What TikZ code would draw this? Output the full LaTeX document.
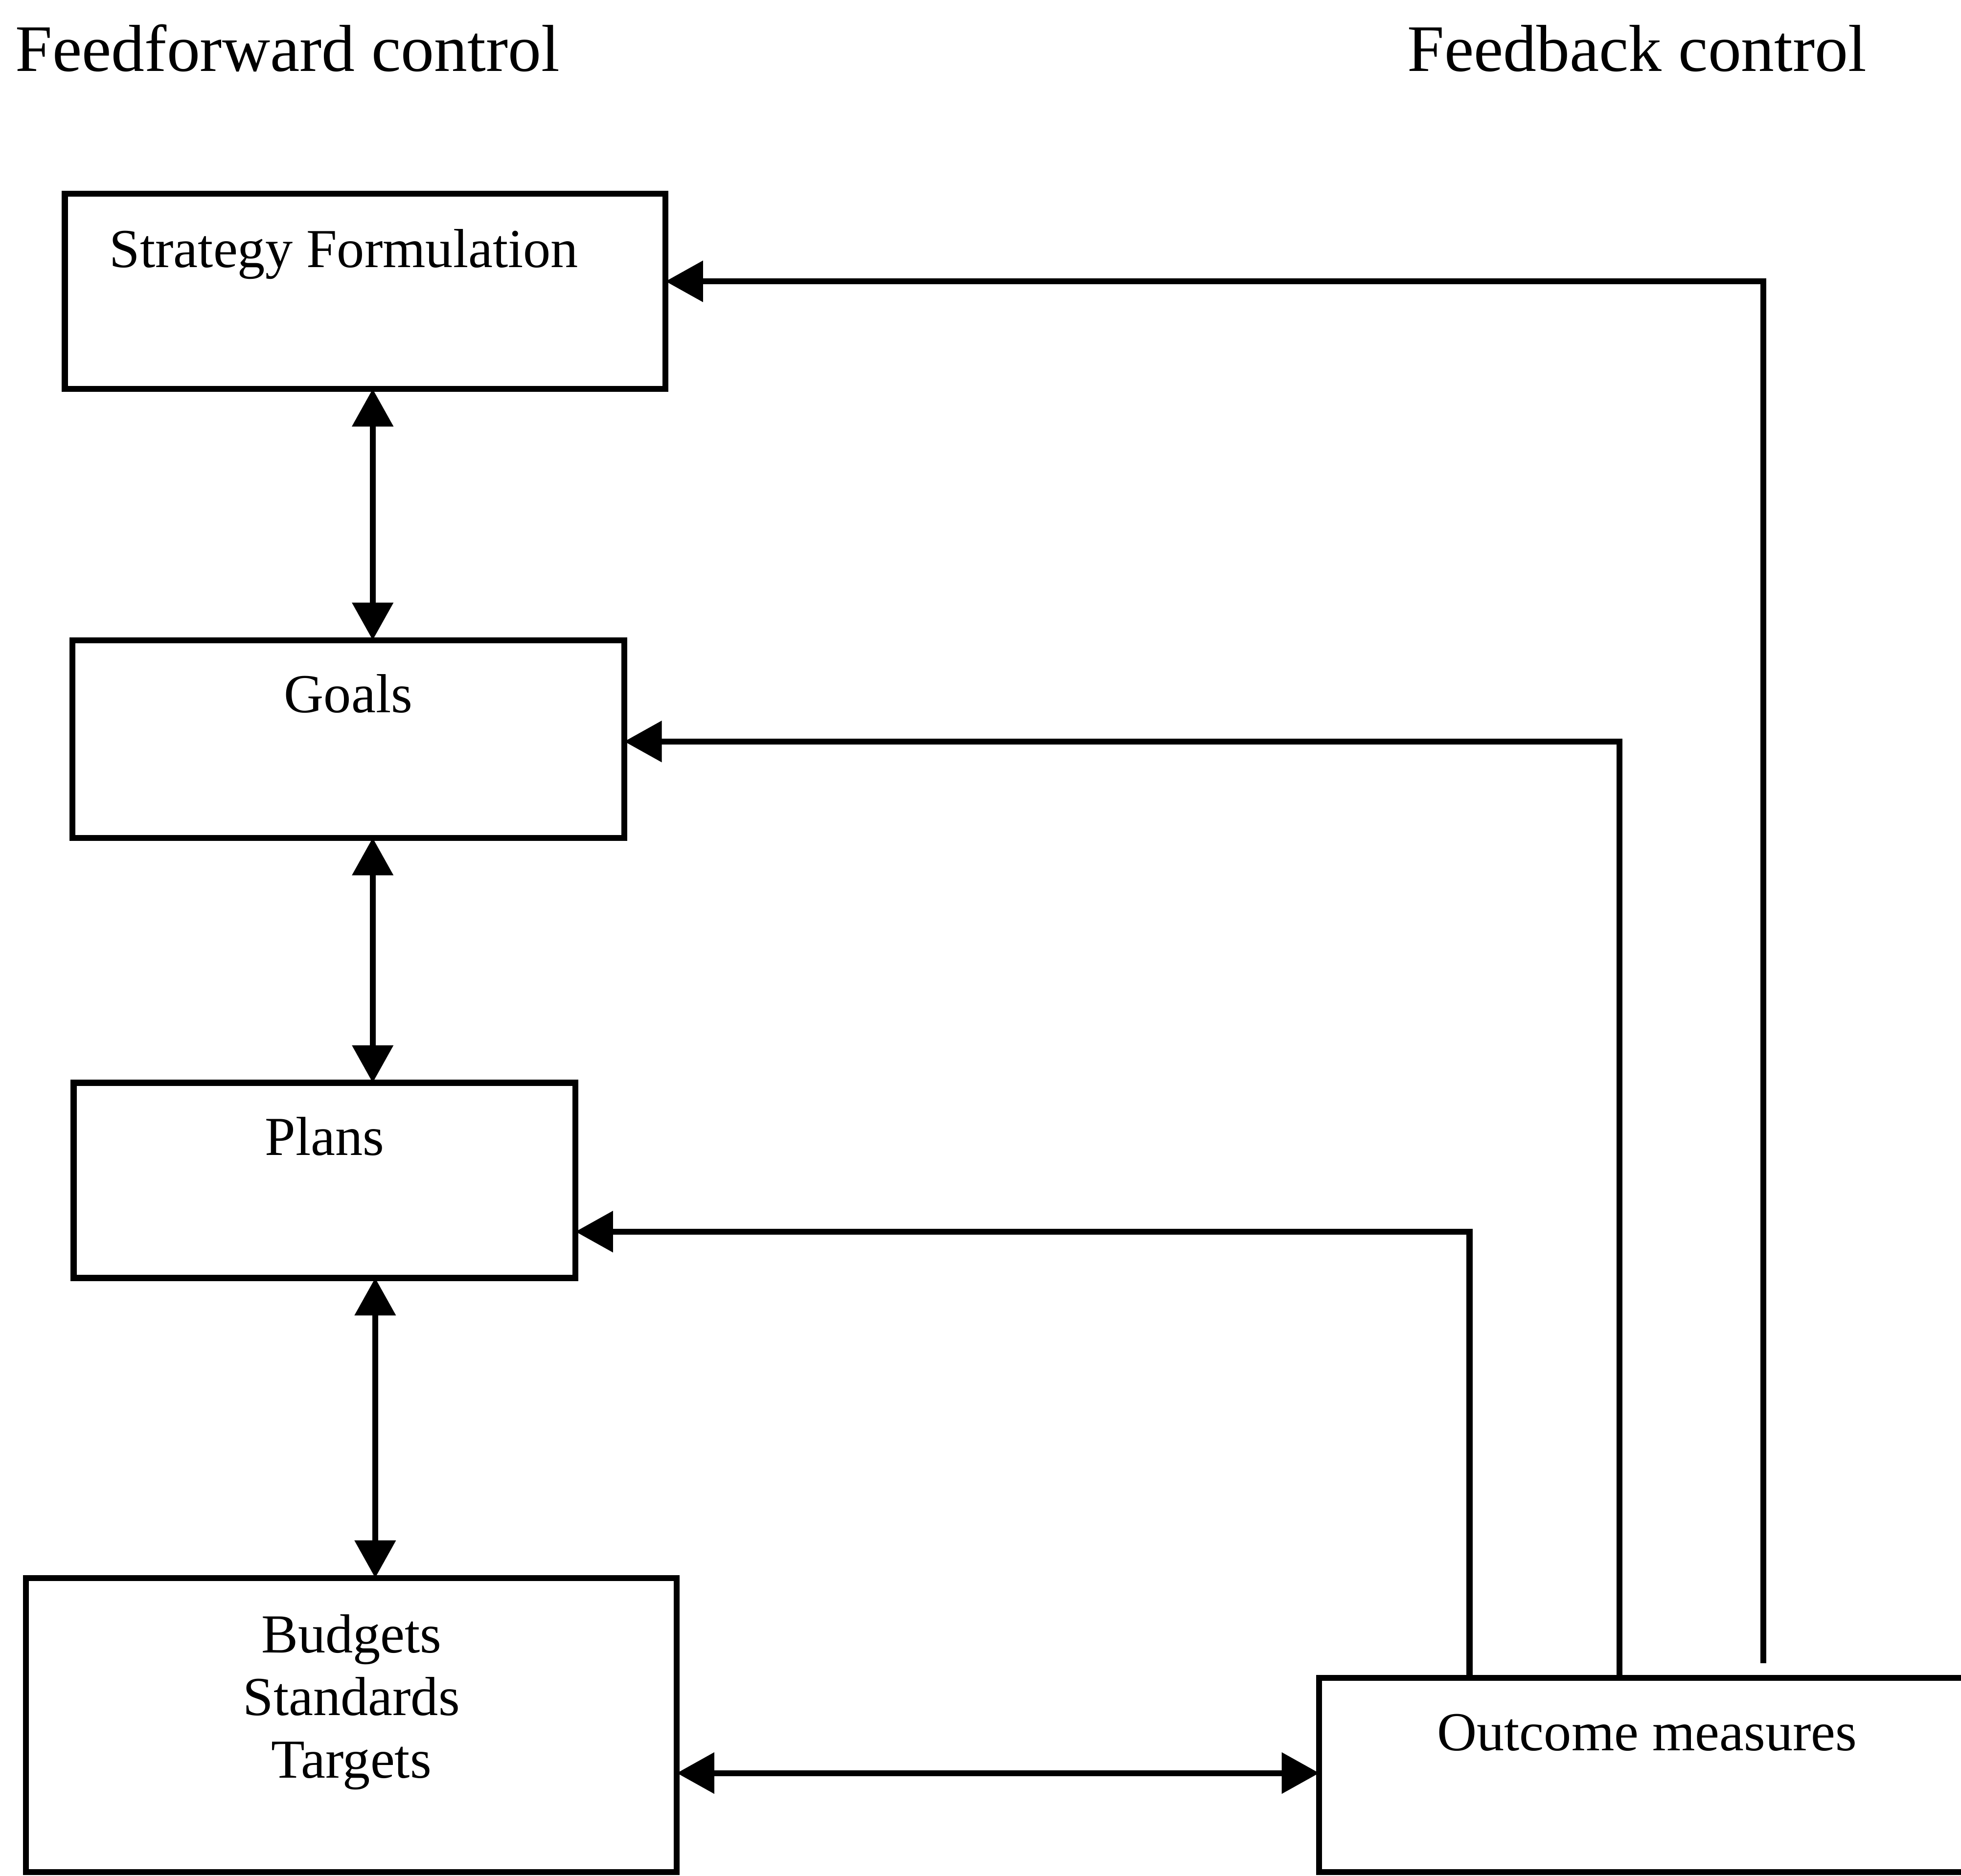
\documentclass[tikz,border=0pt]{standalone}
\usepackage{fontspec}
\setmainfont{Liberation Serif}
\usetikzlibrary{arrows.meta}
\begin{document}
\begin{tikzpicture}[x=0.01cm,y=-0.01cm,
  line width=1.35pt,
  tip/.tip={Triangle[length=0.30cm,width=0.32cm]},
  box/.style={draw, rectangle, inner sep=0pt, outer sep=0pt},
  boxtext/.style={inner sep=0pt, anchor=base, font=\fontsize{12.5pt}{14.23pt}\selectfont},
  title/.style={inner sep=0pt, anchor=base, font=\fontsize{15.1pt}{18pt}\selectfont},
  both/.style={tip-tip},
  back/.style={-tip}]
\useasboundingbox (0,0) rectangle (1568,1500);
\clip (0,0) rectangle (1568,1500);

% column headings
\node[title] (ff) at (230,57) {Feedforward control};
\node[title] (fb) at (1309,57) {Feedback control};

% feedforward chain
\node[box, minimum width=4.80cm, minimum height=1.56cm,
  label={[boxtext, yshift=-0.59cm, xshift=-0.17cm]north:Strategy Formulation}]
  (strat) at (292,233) {};
\node[box, minimum width=4.41cm, minimum height=1.58cm,
  label={[boxtext, yshift=-0.58cm]north:Goals}]
  (goals) at (278.5,591) {};
\node[box, minimum width=4.01cm, minimum height=1.56cm,
  label={[boxtext, yshift=-0.58cm]north:Plans}]
  (plans) at (259.5,944) {};
\node[box, minimum width=5.20cm, minimum height=2.35cm,
  label={[boxtext, anchor=north, align=center, yshift=-0.27cm]north:Budgets\\Standards\\Targets}]
  (budget) at (281,1379.5) {};

% feedback source
\node[box, minimum width=5.45cm, minimum height=1.55cm,
  label={[boxtext, yshift=-0.58cm, xshift=-0.105cm]north:Outcome measures}]
  (outcome) at (1327.5,1419.5) {};

% helper coordinates for connector columns and rows
\coordinate (c1) at (298,0);
\coordinate (c2) at (300,0);
\coordinate (k1) at (1410,1330);
\coordinate (k2) at (1295,0);
\coordinate (k3) at (1175,0);
\coordinate (r1) at (0,225);
\coordinate (r2) at (0,593);
\coordinate (r3) at (0,985);
\coordinate (r4) at (0,1418);

% two-way links down the feedforward chain
\draw[both] (strat.south -| c1) -- (goals.north -| c1);
\draw[both] (goals.south -| c1) -- (plans.north -| c1);
\draw[both] (plans.south -| c2) -- (budget.north -| c2);
\draw[both] (budget.east |- r4) -- (outcome.west |- r4);

% feedback loops from the outcome measures
\draw[back] (k1) |- (strat.east |- r1);
\draw[back] (outcome.north -| k2) |- (goals.east |- r2);
\draw[back] (outcome.north -| k3) |- (plans.east |- r3);
\end{tikzpicture}
\end{document}
